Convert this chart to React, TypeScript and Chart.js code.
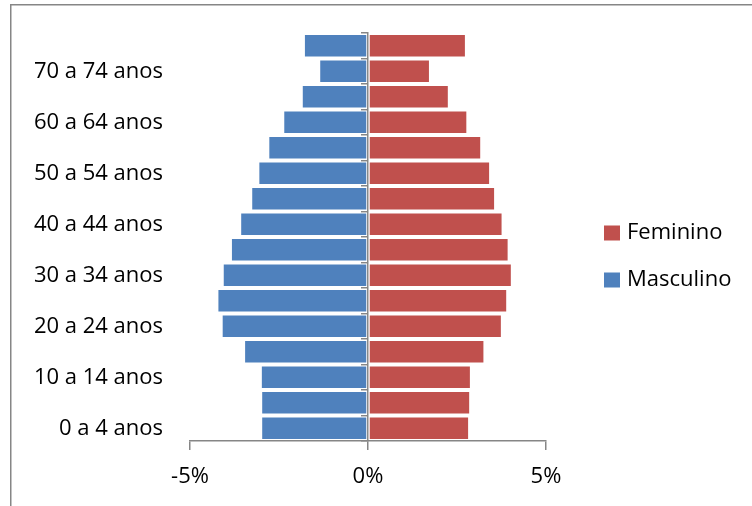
import React, { useEffect, useRef } from "react";
import { Chart, registerables } from "chart.js";

Chart.register(...registerables);

const ageGroups = [
  "0 a 4 anos", "5 a 9 anos", "10 a 14 anos", "15 a 19 anos",
  "20 a 24 anos", "25 a 29 anos", "30 a 34 anos", "35 a 39 anos",
  "40 a 44 anos", "45 a 49 anos", "50 a 54 anos", "55 a 59 anos",
  "60 a 64 anos", "65 a 69 anos", "70 a 74 anos", "75 anos ou mais",
];
const masculino = [-3.0, -3.0, -3.01, -3.48, -4.11, -4.23, -4.08, -3.85, -3.59, -3.28, -3.08, -2.8, -2.38, -1.86, -1.37, -1.8];
const feminino = [2.84, 2.87, 2.89, 3.27, 3.76, 3.91, 4.04, 3.95, 3.78, 3.57, 3.43, 3.18, 2.79, 2.27, 1.74, 2.75];
const xTicks = [-5, 0, 5];
const seriesNames = ["Masculino", "Feminino"];
const seriesColors = ["#4F81BD", "#C0504D"];

const FONT = '"Open Sans", "Noto Sans", sans-serif';
const GRAY = "#868686";

const framePlugin = {
  id: "frame",
  beforeDraw(chart: any) {
    const ctx = chart.ctx;
    ctx.save();
    ctx.strokeStyle = GRAY;
    ctx.lineWidth = 1.5;
    ctx.strokeRect(10.75, 4.75, 2000, 2000);
    ctx.restore();
  },
};

const legendPlugin = {
  id: "customLegend",
  afterDraw(chart: any) {
    const ctx = chart.ctx;
    const ds = chart.data.datasets;
    const startY = 233;
    const step = 47;
    ctx.save();
    ctx.font = `22px ${FONT}`;
    ctx.textBaseline = "middle";
    ctx.textAlign = "left";
    for (let k = 0; k < ds.length; k++) {
      const d = ds[ds.length - 1 - k];
      const cy = startY + k * step;
      ctx.fillStyle = d.backgroundColor;
      ctx.fillRect(604, cy - 7.5, 16, 15);
      ctx.fillStyle = "#000";
      ctx.fillText(d.label, 627, cy);
    }
    ctx.restore();
  },
};

export default function App() {
  const ref = useRef<HTMLCanvasElement | null>(null);

  useEffect(() => {
    if (!ref.current) return;
    const chart = new Chart(ref.current, {
      type: "bar",
      data: {
        labels: ageGroups,
        datasets: [
          {
            label: seriesNames[0],
            data: masculino,
            backgroundColor: seriesColors[0],
            borderColor: "rgba(255,255,255,0.45)",
            borderWidth: 1,
            borderSkipped: false,
            barPercentage: 0.93,
            categoryPercentage: 1,
          },
          {
            label: seriesNames[1],
            data: feminino,
            backgroundColor: seriesColors[1],
            borderColor: "rgba(255,255,255,0.45)",
            borderWidth: 1,
            borderSkipped: false,
            barPercentage: 0.93,
            categoryPercentage: 1,
          },
        ],
      },
      options: {
        indexAxis: "y",
        responsive: true,
        maintainAspectRatio: false,
        animation: false,
        layout: { padding: { left: 0, right: 206, top: 33, bottom: 0 } },
        plugins: { legend: { display: false }, tooltip: { enabled: false } },
        scales: {
          x: {
            type: "linear",
            min: -5,
            max: 5,
            stacked: true,
            position: "bottom",
            afterBuildTicks: (s: any) => {
              s.ticks = xTicks.map((v) => ({ value: v }));
            },
            grid: {
              drawOnChartArea: false,
              drawTicks: true,
              tickLength: 9,
              color: GRAY,
              tickColor: GRAY,
              lineWidth: 1.5,
            },
            border: { display: true, color: GRAY, width: 1.5 },
            ticks: {
              padding: 14,
              color: "#000",
              font: { family: FONT, size: 22 },
              maxRotation: 0,
              callback: (v: any) => `${v}%`,
            },
            afterFit: (s: any) => {
              s.height = 65;
              s.paddingLeft = 0;
              s.paddingRight = 0;
            },
          },
          y: {
            type: "category",
            stacked: true,
            reverse: true,
            position: "left",
            offset: true,
            grid: { display: false, drawTicks: false },
            border: { display: false },
            ticks: {
              padding: 27,
              color: "#000",
              autoSkip: false,
              font: { family: FONT, size: 22 },
              callback: (v: any) => (Number(v) % 2 === 0 ? ageGroups[Number(v)] : ""),
            },
            afterFit: (s: any) => {
              s.width = 190;
              s.paddingTop = 0;
              s.paddingBottom = 0;
            },
          },
          y2: {
            type: "category",
            position: { x: 0 } as any,
            reverse: true,
            offset: true,
            grid: {
              offset: true,
              drawOnChartArea: false,
              drawTicks: true,
              tickLength: 6,
              tickColor: GRAY,
              color: GRAY,
              lineWidth: 1.5,
            },
            border: { display: true, color: GRAY, width: 1.5 },
            ticks: { display: false },
            afterFit: (s: any) => {
              s.paddingTop = 0;
              s.paddingBottom = 0;
            },
          },
        },
      } as any,
      plugins: [framePlugin, legendPlugin],
    });
    return () => chart.destroy();
  }, []);

  return (
    <div style={{ position: "absolute", left: 0, top: 0, width: 752, height: 506, background: "#fff" }}>
      <canvas ref={ref} />
    </div>
  );
}
